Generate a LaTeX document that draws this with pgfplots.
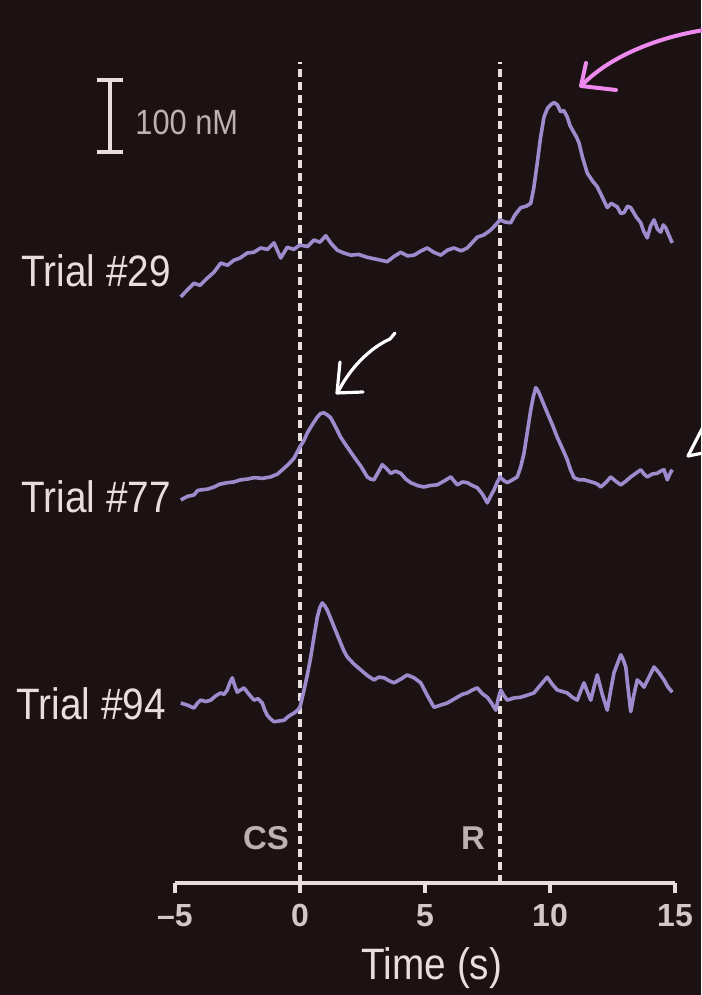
\documentclass[border=0pt]{standalone}
\usepackage{fontspec}
\setmainfont{Liberation Sans}
\newfontfamily\narrowfont{Liberation Sans}[FakeStretch=0.88]
\usepackage{pgfplots}
\pgfplotsset{compat=1.18}
\definecolor{bg}{HTML}{1C1113}
\definecolor{trace}{HTML}{9E8BCE}
\definecolor{wht}{HTML}{E8DEDE}
\definecolor{lab}{HTML}{D2C8C8}
\definecolor{labdim}{HTML}{BDB2B2}
\definecolor{pinkarrow}{HTML}{EE8AEE}
\begin{document}
\begin{tikzpicture}
\useasboundingbox (0,0) rectangle (350.5pt,497.5pt);
\fill[bg] (0,0) rectangle (350.5pt,497.5pt);
\begin{axis}[
  at={(87.5pt,56pt)}, anchor=south west,
  scale only axis, width=250pt, height=441.5pt,
  xmin=-5, xmax=15, ymin=0, ymax=1226.4,
  clip=false,
  axis x line*=bottom, axis y line=none,
  x axis line style={-, line width=2pt, wht},
  xtick={-5,0,5,10,15},
  xticklabels={\textendash5,0,5,10,15},
  tick align=outside, major tick length=5pt,
  xtick style={line width=2pt, wht},
  xticklabel style={font=\fontsize{16}{16}\selectfont\bfseries, text=lab, yshift=-2pt},
  /pgf/number format/assume math mode=true,
]
% event lines
\addplot[wht, line width=2.3pt, dash pattern=on 4pt off 2.5pt] coordinates {(0,0) (0,1140)};
\addplot[wht, line width=2.3pt, dash pattern=on 4pt off 2.5pt] coordinates {(8,0) (8,1140)};
% Trial 29
\addplot[trace, line width=1.8pt, line join=round] coordinates {
(-4.77,814) (-4.5,824) (-4.24,833) (-4.0,830) (-3.71,840) (-3.45,848) (-3.17,861) (-2.9,858) (-2.64,865)
(-2.4,868) (-2.11,875) (-1.85,876) (-1.57,882) (-1.3,880) (-1.04,889) (-0.77,868) (-0.51,883)
(-0.25,880) (0,886) (0.3,884) (0.56,893) (0.8,890) (1.03,899) (1.25,888) (1.49,879) (1.75,875) (2.03,872)
(2.35,873) (2.69,869) (3.1,866) (3.49,863) (3.75,870) (4.03,876) (4.3,871) (4.56,872) (4.85,878) (5.09,882)
(5.35,876) (5.63,872) (5.9,879) (6.16,882) (6.45,878) (6.69,882) (7.09,897) (7.35,900) (7.63,907) (7.85,915)
(8.0,921) (8.2,918) (8.43,917) (8.6,928) (8.83,938) (9.05,940) (9.23,944) (9.35,965) (9.49,1000) (9.62,1035)
(9.76,1064) (9.9,1076) (10.03,1081) (10.16,1084) (10.29,1081) (10.43,1071) (10.55,1073) (10.69,1064) (10.8,1052)
(10.96,1042) (11.06,1036) (11.16,1028) (11.3,1008) (11.49,986) (11.7,975) (11.89,967) (12.1,952) (12.29,938)
(12.45,944) (12.69,939) (12.83,930) (12.96,931) (13.1,940) (13.23,938) (13.45,925) (13.63,917) (13.75,905)
(13.89,896) (14.02,912) (14.16,921) (14.3,908) (14.43,904) (14.53,914) (14.63,910) (14.75,900) (14.89,889)
};
% Trial 77
\addplot[trace, line width=1.8pt, line join=round] coordinates {
(-4.77,532) (-4.5,537) (-4.24,539) (-4.1,545) (-3.97,546) (-3.7,547) (-3.44,550) (-3.2,554) (-2.91,556)
(-2.65,557) (-2.37,560) (-2.1,561) (-1.84,563) (-1.5,562) (-1.17,564) (-0.9,568) (-0.64,576) (-0.45,582)
(-0.24,590) (0,606) (0.15,614) (0.29,625) (0.5,637) (0.69,647) (0.82,652) (0.96,653) (1.1,650) (1.23,646)
(1.43,633) (1.63,619) (1.9,605) (2.16,592) (2.45,578) (2.69,564) (2.82,561) (2.96,560) (3.12,570) (3.29,581)
(3.45,576) (3.63,569) (3.82,572) (4.03,569) (4.23,561) (4.43,556) (4.7,552) (4.96,550) (5.2,552) (5.49,553)
(5.75,558) (6.03,564) (6.15,559) (6.29,553) (6.5,557) (6.69,556) (6.9,552) (7.09,549) (7.3,540) (7.49,528)
(7.62,537) (7.76,546) (7.88,556) (8.0,564) (8.15,559) (8.29,556) (8.5,560) (8.69,564) (8.83,578) (8.96,597)
(9.1,628) (9.23,657) (9.33,675) (9.43,688) (9.53,683) (9.63,675) (9.76,664) (9.89,653) (10.1,636) (10.29,619)
(10.5,603) (10.69,588) (10.82,574) (10.96,563) (11.16,560) (11.36,560) (11.56,558) (11.76,556) (11.9,554)
(12.03,550) (12.23,556) (12.43,564) (12.63,558) (12.83,553) (13.03,558) (13.23,564) (13.43,569) (13.63,574)
(13.76,568) (13.89,564) (14.09,568) (14.29,569) (14.42,572) (14.56,574) (14.69,560) (14.79,568) (14.89,574)
};
% Trial 94
\addplot[trace, line width=1.8pt, line join=round] coordinates {
(-4.77,250) (-4.5,247) (-4.24,243) (-4.1,250) (-3.97,254) (-3.77,252) (-3.57,254) (-3.37,260) (-3.17,264)
(-3.04,262) (-2.91,268) (-2.81,278) (-2.71,285) (-2.61,274) (-2.51,265) (-2.38,268) (-2.24,271) (-2.04,262)
(-1.84,254) (-1.68,256) (-1.51,250) (-1.41,240) (-1.31,233) (-1.18,228) (-1.04,224) (-0.84,225) (-0.64,226)
(-0.44,232) (-0.24,236) (-0.1,240) (0,244) (0.16,268) (0.3,290) (0.43,314) (0.56,342) (0.69,369) (0.79,382)
(0.89,389) (0.99,385) (1.09,379) (1.22,368) (1.36,356) (1.5,344) (1.63,333) (1.76,322) (1.89,314) (2.16,304)
(2.43,296) (2.7,288) (2.96,282) (3.16,286) (3.36,285) (3.56,281) (3.76,278) (4.02,283) (4.29,289) (4.56,285)
(4.83,278) (5.1,260) (5.36,244) (5.62,247) (5.89,250) (6.09,254) (6.29,258) (6.49,262) (6.69,264) (6.89,268)
(7.09,271) (7.29,263) (7.49,258) (7.66,250) (7.83,240) (7.93,256) (8.03,268) (8.16,260) (8.29,254) (8.56,257)
(8.83,258) (9.1,261) (9.36,264) (9.62,275) (9.89,286) (10.09,276) (10.29,268) (10.49,266) (10.69,264)
(10.89,258) (11.09,254) (11.22,266) (11.36,278) (11.5,265) (11.63,254) (11.76,272) (11.89,289) (12.09,262)
(12.29,240) (12.43,268) (12.56,292) (12.7,305) (12.83,317) (12.93,310) (13.03,300) (13.13,268) (13.23,238)
(13.36,262) (13.49,282) (13.62,278) (13.76,272) (13.96,286) (14.16,300) (14.36,292) (14.56,282) (14.72,272)
(14.89,265)
};
% trial labels
\node[anchor=east, font=\narrowfont\fontsize{22}{22}\selectfont, text=wht] at (axis cs:-4.88,851) {Trial \#29};
\node[anchor=east, font=\narrowfont\fontsize{22}{22}\selectfont, text=wht] at (axis cs:-4.88,536) {Trial \#77};
\node[anchor=east, font=\narrowfont\fontsize{22}{22}\selectfont, text=wht] at (axis cs:-5.08,249) {Trial \#94};
% scale bar
\draw[wht, line width=2pt] (axis cs:-7.6,1015) -- (axis cs:-7.6,1115);
\draw[wht, line width=2pt] (axis cs:-8.12,1015) -- (axis cs:-7.08,1015);
\draw[wht, line width=2pt] (axis cs:-8.12,1115) -- (axis cs:-7.08,1115);
\node[anchor=west, inner sep=0pt, font=\narrowfont\fontsize{17.5}{17.5}\selectfont, text=labdim] at (axis cs:-6.6,1057) {100 nM};
% event labels
\node[font=\fontsize{16.5}{16.5}\selectfont\bfseries, text=labdim] at (axis cs:-1.36,62) {CS};
\node[font=\fontsize{16.5}{16.5}\selectfont\bfseries, text=labdim] at (axis cs:6.92,62) {R};
% x label
\node[font=\narrowfont\fontsize{22}{22}\selectfont, text=wht] at (axis cs:5.28,-118) {Time (s)};
\end{axis}
\begin{scope}[x=0.5pt,y=-0.5pt,yshift=497.5pt]
\draw[pinkarrow, line width=2pt, line cap=round, line join=round] (704,30) .. controls (660,37) and (612,55) .. (583,84);
\draw[pinkarrow, line width=2pt, line cap=round, line join=round] (586,63) -- (581,86) -- (616,90);
\draw[white, line width=1.6pt, line cap=round, line join=round] (395,333) -- (390,339) .. controls (370,348) and (350,368) .. (338,392);
\draw[white, line width=1.6pt, line cap=round, line join=round] (340,362) -- (337,393) -- (363,392);
\draw[white, line width=1.6pt, line cap=round, line join=round] (703,427) -- (688,456) -- (703,453);
\end{scope}
\end{tikzpicture}
\end{document}
